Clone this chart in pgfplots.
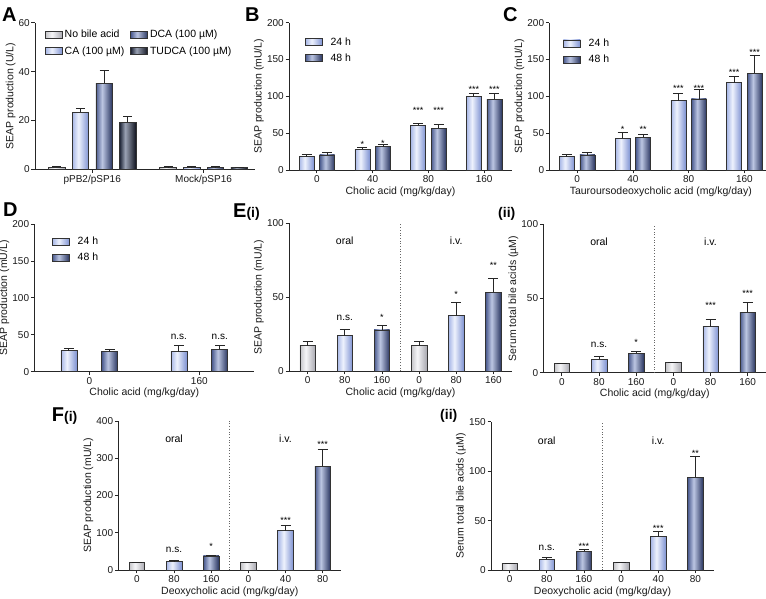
\documentclass[border=0pt]{standalone}
\usepackage{fontspec}
\setmainfont{Liberation Sans}
\usepackage{pgfplots}
\pgfplotsset{compat=1.18}

\newcommand\fs{\fontsize{10.5}{12}\selectfont}
\newcommand\ft{\fontsize{10}{12}\selectfont}

% bar colours: left edge, highlight, right edge
\definecolor{gL}{HTML}{C4C4C8}\definecolor{gM}{HTML}{F6F6F8}\definecolor{gR}{HTML}{A8A8B0}
\definecolor{lL}{HTML}{A6B6E6}\definecolor{lM}{HTML}{EEF2FD}\definecolor{lR}{HTML}{7E92D2}
\definecolor{dL}{HTML}{4A5A8E}\definecolor{dM}{HTML}{BCC6E2}\definecolor{dR}{HTML}{28345F}
\definecolor{tL}{HTML}{1C2234}\definecolor{tM}{HTML}{9AA2B4}\definecolor{tR}{HTML}{10131F}
\pgfdeclarehorizontalshading{shg}{100bp}{color(0bp)=(gL); color(25bp)=(gL); color(44bp)=(gM); color(75bp)=(gR); color(100bp)=(gR)}
\pgfdeclarehorizontalshading{shl}{100bp}{color(0bp)=(lL); color(25bp)=(lL); color(44bp)=(lM); color(75bp)=(lR); color(100bp)=(lR)}
\pgfdeclarehorizontalshading{shd}{100bp}{color(0bp)=(dL); color(25bp)=(dL); color(44bp)=(dM); color(75bp)=(dR); color(100bp)=(dR)}
\pgfdeclarehorizontalshading{sht}{100bp}{color(0bp)=(tL); color(25bp)=(tL); color(42bp)=(tM); color(75bp)=(tR); color(100bp)=(tR)}

\pgfplotsset{
  panel/.style={scale only axis, axis x line*=bottom, axis y line*=left, ymin=0,
    tick align=outside, major tick length=3.5pt, clip=false,
    axis line style={line width=0.8pt, black!85},
    every tick/.style={line width=0.8pt, black!85},
    tick label style={font=\ft, black!90}, label style={font=\fs, black!90},
    yticklabel style={inner xsep=1.5pt}, ylabel style={inner sep=1.5pt},
    xticklabel style={inner ysep=2pt}, xlabel style={inner sep=1.5pt},
    /pgf/number format/assume math mode=true,
    legend style={draw=none, fill=none, font=\fs, inner sep=0pt, row sep=3pt, legend cell align=left}},
  bars/.style={ybar, bar shift=0pt, draw=black!80, line width=0.6pt, shade, shading=#1,
    legend image code/.code={\path[##1] (0pt,-3.5pt) rectangle (17pt,3.5pt);}},
  errs/.style={forget plot, draw=none, mark=none, error bars/.cd, y dir=plus, y explicit,
    error bar style={line width=0.8pt, draw=black!85},
    error mark options={rotate=90, line width=0.8pt, draw=black!85, mark size=#1}},
  twoleg/.style={legend style={/tikz/every odd column/.append style={column sep=6pt}}},
}
\tikzset{
  star/.style={font=\fontsize{9}{9}\selectfont, inner sep=0pt, anchor=base, yshift=-5pt},
  ns/.style={font=\fontsize{10}{10}\selectfont, inner sep=0pt, anchor=base, yshift=-2.7pt},
  big/.style={font=\bfseries\fontsize{20}{20}\selectfont, inner sep=0pt, anchor=base west},
}

\begin{document}
\begin{tikzpicture}
\path[use as bounding box] (0,0) rectangle (766pt,599pt);

% ---------- A
\begin{axis}[panel, at={(35pt,429.7pt)}, width=220pt, height=146.6pt,
  xmin=0.085, xmax=9.37, ymax=60, ytick={0,20,40,60},
  xtick={2.5,7.2}, xticklabels={pPB2/pSP16,Mock/pSP16},
  ylabel={SEAP production (U/L)}, bar width=16.5pt,
  legend columns=2, transpose legend,
  legend style={at={(0.045,0.963)}, anchor=north west,
    /tikz/every even column/.append style={column sep=4pt}}]
\addplot[bars=shg] coordinates {(1,0.9)};
\addlegendentry{No bile acid}
\addplot[bars=shl] coordinates {(2,23.3)};
\addlegendentry{CA (100 µM)}
\addplot[bars=shd] coordinates {(3,35.2)};
\addlegendentry{DCA (100 µM)}
\addplot[bars=sht] coordinates {(4,19.2)};
\addlegendentry{TUDCA (100 µM)}
\addplot[bars=shg, forget plot] coordinates {(5.7,0.7)};
\addplot[bars=shl, forget plot] coordinates {(6.7,0.7)};
\addplot[bars=shd, forget plot] coordinates {(7.7,0.8)};
\addplot[bars=sht, forget plot] coordinates {(8.7,0.7)};
\addplot[errs=4.5pt] coordinates {(1,0.9) +- (0,0.4) (2,23.3) +- (0,1.7) (3,35.2) +- (0,5.2) (4,19.2) +- (0,2.3)
  (5.7,0.7) +- (0,0.3) (6.7,0.7) +- (0,0.3) (7.7,0.8) +- (0,0.3) (8.7,0.7) +- (0,0.2)};
\end{axis}

% ---------- B
\begin{axis}[panel, twoleg, at={(289pt,429pt)}, width=223pt, height=147.3pt,
  xmin=-0.5, xmax=3.5, ymax=200, ytick={0,50,100,150,200},
  xtick={0,1,2,3}, xticklabels={0,40,80,160},
  ylabel={SEAP production (mU/L)}, xlabel={Cholic acid (mg/kg/day)}, bar width=15pt,
  legend style={at={(0.071,0.914)}, anchor=north west}]
\addplot[bars=shl] coordinates {(-0.185,18)};
\addlegendentry{24 h}
\addplot[bars=shd] coordinates {(0.185,20.4)};
\addlegendentry{48 h}
\addplot[bars=shl, forget plot] coordinates {(0.815,28.5)};
\addplot[bars=shl, forget plot] coordinates {(1.815,61)};
\addplot[bars=shl, forget plot] coordinates {(2.815,99.5)};
\addplot[bars=shd, forget plot] coordinates {(1.185,31.7)};
\addplot[bars=shd, forget plot] coordinates {(2.185,56.6)};
\addplot[bars=shd, forget plot] coordinates {(3.185,96)};
\addplot[errs=5pt] coordinates {(-0.185,18) +- (0,3.3) (0.815,28.5) +- (0,2.7) (1.815,61) +- (0,1.9) (2.815,99.5) +- (0,4.1)
  (0.185,20.4) +- (0,3.1) (1.185,31.7) +- (0,3.1) (2.185,56.6) +- (0,5.8) (3.185,96) +- (0,7.6)};
\node[star] at (axis cs:0.815,38) {*};
\node[star] at (axis cs:1.185,39) {*};
\node[star] at (axis cs:1.815,83.8) {***};
\node[star] at (axis cs:2.185,83.8) {***};
\node[star] at (axis cs:2.815,112.2) {***};
\node[star] at (axis cs:3.185,112.2) {***};
\end{axis}

% ---------- C
\begin{axis}[panel, twoleg, at={(549.3pt,429pt)}, width=223pt, height=147.3pt,
  xmin=-0.5, xmax=3.5, ymax=200, ytick={0,50,100,150,200},
  xtick={0,1,2,3}, xticklabels={0,40,80,160},
  ylabel={SEAP production (mU/L)}, xlabel={Tauroursodeoxycholic acid (mg/kg/day)}, bar width=15pt,
  legend style={at={(0.061,0.905)}, anchor=north west}]
\addplot[bars=shl] coordinates {(-0.185,18)};
\addlegendentry{24 h}
\addplot[bars=shd] coordinates {(0.185,20.4)};
\addlegendentry{48 h}
\addplot[bars=shl, forget plot] coordinates {(0.815,43)};
\addplot[bars=shl, forget plot] coordinates {(1.815,94)};
\addplot[bars=shl, forget plot] coordinates {(2.815,118.5)};
\addplot[bars=shd, forget plot] coordinates {(1.185,44.3)};
\addplot[bars=shd, forget plot] coordinates {(2.185,96.4)};
\addplot[bars=shd, forget plot] coordinates {(3.185,131.2)};
\addplot[errs=5pt] coordinates {(-0.185,18) +- (0,3) (0.815,43) +- (0,8.1) (1.815,94) +- (0,10) (2.815,118.5) +- (0,8.2)
  (0.185,20.4) +- (0,3.1) (1.185,44.3) +- (0,4.1) (2.185,96.4) +- (0,13.1) (3.185,131.2) +- (0,24)};
\node[star] at (axis cs:0.815,58) {*};
\node[star] at (axis cs:1.185,58) {**};
\node[star] at (axis cs:1.815,114) {***};
\node[star] at (axis cs:2.185,114) {***};
\node[star] at (axis cs:2.815,134.8) {***};
\node[star] at (axis cs:3.185,162.9) {***};
\end{axis}

% ---------- D
\begin{axis}[panel, twoleg, at={(34.3pt,227.3pt)}, width=220pt, height=147.7pt,
  xmin=-0.5, xmax=1.5, ymax=200, ytick={0,50,100,150,200},
  xtick={0,1}, xticklabels={0,160},
  ylabel={SEAP production (mU/L)}, xlabel={Cholic acid (mg/kg/day)}, bar width=16pt,
  legend style={at={(0.08,0.925)}, anchor=north west}]
\addplot[bars=shl] coordinates {(-0.186,28.5)};
\addlegendentry{24 h}
\addplot[bars=shd] coordinates {(0.186,27)};
\addlegendentry{48 h}
\addplot[bars=shl, forget plot] coordinates {(0.814,27)};
\addplot[bars=shd, forget plot] coordinates {(1.186,30.7)};
\addplot[errs=5pt] coordinates {(-0.186,28.5) +- (0,3.1) (0.814,27) +- (0,8.2) (0.186,27) +- (0,2.8) (1.186,30.7) +- (0,5.4)};
\node[ns] at (axis cs:0.814,47.4) {n.s.};
\node[ns] at (axis cs:1.186,47.4) {n.s.};
\end{axis}

% ---------- E(i)
\begin{axis}[panel, at={(289pt,228pt)}, width=223pt, height=147.7pt,
  xmin=-0.5, xmax=5.5, ymax=100, ytick={0,50,100},
  xtick={0,...,5}, xticklabels={0,80,160,0,80,160},
  ylabel={SEAP production (mU/L)}, xlabel={Cholic acid (mg/kg/day)}, bar width=15.5pt]
\addplot[bars=shg] coordinates {(0,17.2)};
\addplot[bars=shl] coordinates {(1,23.9)};
\addplot[bars=shd] coordinates {(2,27.8)};
\addplot[bars=shg] coordinates {(3,17.2)};
\addplot[bars=shl] coordinates {(4,37.5)};
\addplot[bars=shd] coordinates {(5,53.3)};
\addplot[errs=5pt] coordinates {(0,17.2) +- (0,2.7) (1,23.9) +- (0,4.3) (2,27.8) +- (0,2.9)
  (3,17.2) +- (0,2.7) (4,37.5) +- (0,9) (5,53.3) +- (0,9.5)};
\draw[black!60, dotted, line width=0.7pt] (axis cs:2.5,0) -- (axis cs:2.5,100);
\node[font=\fs] at (axis cs:1,88.2) {oral};
\node[font=\fs] at (axis cs:4,88.2) {i.v.};
\node[ns] at (axis cs:1,36.1) {n.s.};
\node[star] at (axis cs:2,37.9) {*};
\node[star] at (axis cs:4,53) {*};
\node[star] at (axis cs:5,72.9) {**};
\end{axis}

% ---------- E(ii)
\begin{axis}[panel, at={(543.3pt,226.3pt)}, width=223pt, height=148.4pt,
  xmin=-0.5, xmax=5.5, ymax=100, ytick={0,50,100},
  xtick={0,...,5}, xticklabels={0,80,160,0,80,160},
  ylabel={Serum total bile acids (µM)}, xlabel={Cholic acid (mg/kg/day)}, bar width=15.5pt]
\addplot[bars=shg] coordinates {(0,6.3)};
\addplot[bars=shl] coordinates {(1,9.2)};
\addplot[bars=shd] coordinates {(2,13.1)};
\addplot[bars=shg] coordinates {(3,6.7)};
\addplot[bars=shl] coordinates {(4,31)};
\addplot[bars=shd] coordinates {(5,40.7)};
\addplot[errs=5pt] coordinates {(0,6.3) +- (0,0.3) (1,9.2) +- (0,2.1) (2,13.1) +- (0,1.5)
  (3,6.7) +- (0,0.4) (4,31) +- (0,5) (5,40.7) +- (0,6.8)};
\draw[black!60, dotted, line width=0.7pt] (axis cs:2.5,0) -- (axis cs:2.5,100);
\node[font=\fs] at (axis cs:1,88.3) {oral};
\node[font=\fs] at (axis cs:4,88.3) {i.v.};
\node[ns] at (axis cs:1,18.7) {n.s.};
\node[star] at (axis cs:2,21.6) {*};
\node[star] at (axis cs:4,46.8) {***};
\node[star] at (axis cs:5,54.6) {***};
\end{axis}

% ---------- F(i)
\begin{axis}[panel, at={(118.3pt,29pt)}, width=223pt, height=149pt,
  xmin=-0.5, xmax=5.5, ymax=400, ytick={0,100,200,300,400},
  xtick={0,...,5}, xticklabels={0,80,160,0,40,80},
  ylabel={SEAP production (mU/L)}, xlabel={Deoxycholic acid (mg/kg/day)}, bar width=15.5pt]
\addplot[bars=shg] coordinates {(0,19.7)};
\addplot[bars=shl] coordinates {(1,23)};
\addplot[bars=shd] coordinates {(2,37.6)};
\addplot[bars=shg] coordinates {(3,19.7)};
\addplot[bars=shl] coordinates {(4,105.6)};
\addplot[bars=shd] coordinates {(5,278.3)};
\addplot[errs=5pt] coordinates {(0,19.7) +- (0,1.5) (1,23) +- (0,1.8) (2,37.6) +- (0,2.4)
  (3,19.7) +- (0,1.5) (4,105.6) +- (0,13.4) (5,278.3) +- (0,45.7)};
\draw[black!60, dotted, line width=0.7pt] (axis cs:2.5,0) -- (axis cs:2.5,400);
\node[font=\fs] at (axis cs:1,351.7) {oral};
\node[font=\fs] at (axis cs:4,351.7) {i.v.};
\node[ns] at (axis cs:1,53.7) {n.s.};
\node[star] at (axis cs:2,69) {*};
\node[star] at (axis cs:4,138.8) {***};
\node[star] at (axis cs:5,342.8) {***};
\end{axis}

% ---------- F(ii)
\begin{axis}[panel, at={(491pt,29pt)}, width=223pt, height=148.3pt,
  xmin=-0.5, xmax=5.5, ymax=150, ytick={0,50,100,150},
  xtick={0,...,5}, xticklabels={0,80,160,0,40,80},
  ylabel={Serum total bile acids (µM)}, xlabel={Deoxycholic acid (mg/kg/day)}, bar width=15.5pt]
\addplot[bars=shg] coordinates {(0,6.7)};
\addplot[bars=shl] coordinates {(1,11.1)};
\addplot[bars=shd] coordinates {(2,19.2)};
\addplot[bars=shg] coordinates {(3,7.4)};
\addplot[bars=shl] coordinates {(4,33.7)};
\addplot[bars=shd] coordinates {(5,93.7)};
\addplot[errs=5pt] coordinates {(0,6.7) +- (0,0.3) (1,11.1) +- (0,2) (2,19.2) +- (0,1.7)
  (3,7.4) +- (0,0.3) (4,33.7) +- (0,5.1) (5,93.7) +- (0,21.6)};
\draw[black!60, dotted, line width=0.7pt] (axis cs:2.5,0) -- (axis cs:2.5,150);
\node[font=\fs] at (axis cs:1,130.7) {oral};
\node[font=\fs] at (axis cs:4,130.7) {i.v.};
\node[ns] at (axis cs:1,22.5) {n.s.};
\node[star] at (axis cs:2,26) {***};
\node[star] at (axis cs:4,43.8) {***};
\node[star] at (axis cs:5,120.3) {**};
\end{axis}

% ---------- panel letters
\node[big] at (2pt,577.3pt) {A};
\node[big] at (245pt,577.3pt) {B};
\node[big] at (503pt,577.3pt) {C};
\node[big] at (3pt,382.3pt) {D};
\node[big] at (233pt,381pt) {E\fontsize{14}{14}\selectfont(i)};
\node[big] at (498pt,381pt) {\fontsize{14}{14}\selectfont(ii)};
\node[big] at (51.7pt,177.3pt) {F\fontsize{14}{14}\selectfont(i)};
\node[big] at (440pt,179pt) {\fontsize{14}{14}\selectfont(ii)};
\end{tikzpicture}
\end{document}
